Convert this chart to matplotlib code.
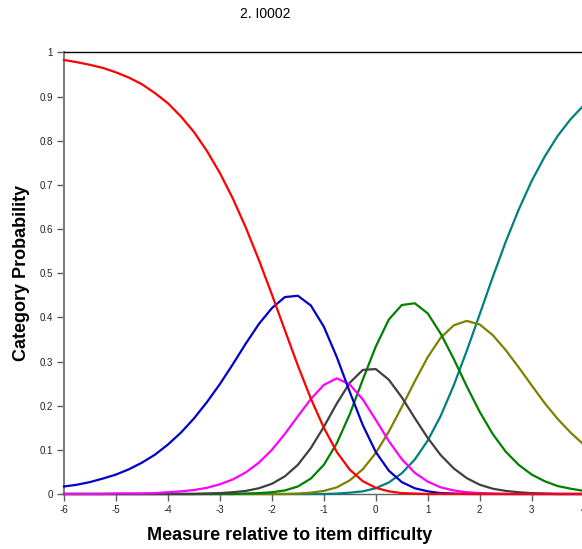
# category probability curves for item 2 (I0002)
import matplotlib
matplotlib.use("Agg")
import matplotlib.pyplot as plt

plt.rcParams['font.family'] = ['Liberation Sans', 'DejaVu Sans']
plt.rcParams['axes.unicode_minus'] = False

# measure grid and category probabilities
measure = [-6, -5.75, -5.5, -5.25, -5, -4.75, -4.5, -4.25, -4, -3.75, -3.5,
           -3.25, -3, -2.75, -2.5, -2.25, -2, -1.75, -1.5, -1.25, -1, -0.75,
           -0.5, -0.25, 0, 0.25, 0.5, 0.75, 1, 1.25, 1.5, 1.75, 2, 2.25, 2.5,
           2.75, 3, 3.25, 3.5, 3.75, 4]
cat0 = [0.983, 0.978, 0.972, 0.965, 0.955, 0.943, 0.928, 0.908, 0.885, 0.855,
        0.820, 0.777, 0.727, 0.669, 0.603, 0.530, 0.452, 0.371, 0.291, 0.216,
        0.150, 0.095, 0.055, 0.029, 0.014, 0.006, 0.002, 0.001, 0.000, 0.000,
        0.000, 0.000, 0.000, 0.000, 0.000, 0.000, 0.000, 0.000, 0.000, 0.000,
        0.000]
cat1 = [0.017, 0.021, 0.027, 0.035, 0.044, 0.056, 0.071, 0.089, 0.112, 0.139,
        0.171, 0.208, 0.249, 0.294, 0.341, 0.385, 0.421, 0.446, 0.449, 0.427,
        0.379, 0.310, 0.231, 0.156, 0.095, 0.053, 0.027, 0.013, 0.006, 0.002,
        0.001, 0.000, 0.000, 0.000, 0.000, 0.000, 0.000, 0.000, 0.000, 0.000,
        0.000]
cat2 = [0.000, 0.000, 0.000, 0.000, 0.001, 0.001, 0.001, 0.002, 0.004, 0.006,
        0.009, 0.014, 0.022, 0.033, 0.049, 0.071, 0.100, 0.136, 0.176, 0.215,
        0.247, 0.262, 0.248, 0.214, 0.168, 0.120, 0.079, 0.048, 0.028, 0.015,
        0.008, 0.004, 0.002, 0.001, 0.000, 0.000, 0.000, 0.000, 0.000, 0.000,
        0.000]
cat3 = [0.000, 0.000, 0.000, 0.000, 0.000, 0.000, 0.000, 0.000, 0.000, 0.000,
        0.000, 0.001, 0.002, 0.004, 0.007, 0.013, 0.023, 0.040, 0.066, 0.104,
        0.152, 0.205, 0.252, 0.281, 0.283, 0.259, 0.219, 0.172, 0.127, 0.088,
        0.058, 0.036, 0.021, 0.012, 0.007, 0.004, 0.002, 0.001, 0.000, 0.000,
        0.000]
cat4 = [0.000, 0.000, 0.000, 0.000, 0.000, 0.000, 0.000, 0.000, 0.000, 0.000,
        0.000, 0.000, 0.000, 0.000, 0.001, 0.002, 0.004, 0.008, 0.017, 0.035,
        0.066, 0.115, 0.181, 0.259, 0.334, 0.395, 0.428, 0.432, 0.409, 0.363,
        0.306, 0.244, 0.186, 0.136, 0.096, 0.066, 0.044, 0.029, 0.018, 0.012,
        0.007]
cat5 = [0.000, 0.000, 0.000, 0.000, 0.000, 0.000, 0.000, 0.000, 0.000, 0.000,
        0.000, 0.000, 0.000, 0.000, 0.000, 0.000, 0.000, 0.000, 0.001, 0.003,
        0.007, 0.015, 0.031, 0.056, 0.093, 0.141, 0.197, 0.255, 0.310, 0.354,
        0.382, 0.392, 0.384, 0.360, 0.326, 0.287, 0.246, 0.206, 0.170, 0.139,
        0.112]
cat6 = [0.000, 0.000, 0.000, 0.000, 0.000, 0.000, 0.000, 0.000, 0.000, 0.000,
        0.000, 0.000, 0.000, 0.000, 0.000, 0.000, 0.000, 0.000, 0.000, 0.000,
        0.000, 0.001, 0.003, 0.006, 0.013, 0.026, 0.047, 0.078, 0.121, 0.177,
        0.246, 0.324, 0.407, 0.491, 0.571, 0.644, 0.709, 0.764, 0.811, 0.849,
        0.880]

curves = [cat0, cat1, cat2, cat3, cat4, cat5, cat6]
colors = ['#ff0000', '#0000cc', '#ff00ff', '#404040', '#008000', '#808000', '#008080']

fig = plt.figure(figsize=(5.82, 5.49), dpi=100)
ax = fig.add_axes([0.110, 0.1002, 0.8928, 0.8042])

# last category first so the lower ones sit on top
for probs, color in reversed(list(zip(curves, colors))):
    ax.plot(measure, probs, color=color, linewidth=1.6, clip_on=False, zorder=3,
            solid_joinstyle='round')

ax.set_xlim(-6, 4)
ax.set_ylim(0, 1)
ax.set_xticks(range(-6, 5))
ax.set_yticks([i / 10 for i in range(11)])
ax.set_yticklabels(['0', '0.1', '0.2', '0.3', '0.4', '0.5', '0.6', '0.7', '0.8', '0.9', '1'])
ax.tick_params(direction='out', length=5, width=1, color='#606060',
               labelsize=7, labelcolor='#222222', pad=3)

ax.spines['left'].set_color('#808080')
ax.spines['left'].set_linewidth(1.5)
ax.spines['bottom'].set_color('#606060')
ax.spines['bottom'].set_linewidth(1)
ax.spines['top'].set_color('black')
ax.spines['top'].set_linewidth(1)
ax.spines['right'].set_visible(False)

fig.text(265 / 582, 1 - 14 / 549, '2. I0002', ha='center', va='center', fontsize=10)
fig.text(22 / 582, 1 - 273 / 549, 'Category Probability', rotation=90,
         ha='center', va='center', fontsize=13, fontweight='bold')
fig.text(290 / 582, 1 - 535 / 549, 'Measure relative to item difficulty',
         ha='center', va='center', fontsize=13, fontweight='bold')

fig.savefig('out.png', dpi=100)
